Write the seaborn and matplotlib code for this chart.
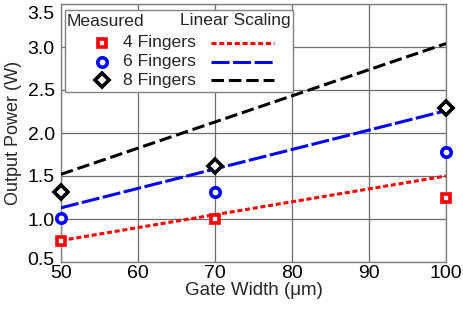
import matplotlib
matplotlib.use("Agg")
import matplotlib.pyplot as plt
import matplotlib.transforms as mtransforms
import seaborn as sns
import pandas as pd
from matplotlib.patches import Rectangle
from matplotlib.lines import Line2D

# ---- data ----
gate_width = [50, 70, 100]
meas_4 = [0.75, 1.00, 1.25]
meas_6 = [1.01, 1.31, 1.78]
meas_8 = [1.31, 1.62, 2.29]

lin_width = [50, 100]
lin_4 = [0.75, 1.50]
lin_6 = [1.13, 2.26]
lin_8 = [1.52, 3.04]

series_labels = ["4 Fingers", "6 Fingers", "8 Fingers"]
x_ticks = [50, 60, 70, 80, 90, 100]
y_ticks = [0.5, 1.0, 1.5, 2.0, 2.5, 3.0, 3.5]

sns.set_theme(style="white")
plt.rcParams["font.family"] = ["Liberation Sans", "DejaVu Sans"]
plt.rcParams["lines.scale_dashes"] = False

fig = plt.figure(figsize=(4.63, 3.11), dpi=100)
ax = fig.add_axes([61/463, 1 - 262/311, 385/463, 258/311])

colors = ["#ff0000", "#0000ff", "#000000"]
markers = ["s", "o", "D"]
msizes = [6.3, 6.8, 6.8]
dashes = [(3.6, 2.0), (13.0, 2.5), (9.0, 3.5)]

df_lin = pd.DataFrame({"w": lin_width * 3,
                       "p": lin_4 + lin_6 + lin_8,
                       "s": [l for l in series_labels for _ in lin_width]})
df_meas = pd.DataFrame({"w": gate_width * 3,
                        "p": meas_4 + meas_6 + meas_8,
                        "s": [l for l in series_labels for _ in gate_width]})

for lab, c, d in zip(series_labels, colors, dashes):
    sub = df_lin[df_lin["s"] == lab]
    sns.lineplot(data=sub, x="w", y="p", color=c, linewidth=2.2, ax=ax,
                 zorder=3)
    ax.lines[-1].set_dashes(d)
    ax.lines[-1].set_dash_capstyle("butt")

for lab, c, m, ms in zip(series_labels, colors, markers, msizes):
    sub = df_meas[df_meas["s"] == lab]
    sns.lineplot(data=sub, x="w", y="p", ax=ax, linestyle="none",
                 marker=m, markersize=ms, markerfacecolor="white",
                 markeredgecolor=c, markeredgewidth=2.6, color=c,
                 clip_on=False, zorder=4)

ax.set_xlim(50, 100)
ax.set_ylim(0.5, 3.5)
ax.set_xticks(x_ticks)
ax.set_yticks(y_ticks)
ax.set_xticklabels([str(v) for v in x_ticks])
ax.set_yticklabels([f"{v:.1f}" for v in y_ticks])
ax.tick_params(axis="both", length=0, labelsize=14, colors="black")
ax.tick_params(axis="y", pad=4.5)
ax.tick_params(axis="x", pad=2.0)

# MATLAB-style nudging of the end labels so they stay inside the axes span
ylabs = ax.get_yticklabels()
ylabs[0].set_transform(ylabs[0].get_transform() +
                       mtransforms.ScaledTranslation(0, 3.5 / 100, fig.dpi_scale_trans))
ylabs[-1].set_transform(ylabs[-1].get_transform() +
                        mtransforms.ScaledTranslation(0, -8.5 / 100, fig.dpi_scale_trans))

ax.grid(True, color="#6e6e6e", linewidth=0.9)
for sp in ax.spines.values():
    sp.set_color("#808080")
    sp.set_linewidth(1.0)

ax.set_xlabel("Gate Width (\u03bcm)", fontsize=13.5, labelpad=0.0)
ax.set_ylabel("Output Power (W)", fontsize=13, labelpad=4)

# ---- legend (manual, axes coordinates) ----
def fx(px):
    return (px - 61) / 385

def fy(py):
    return (262 - py) / 258

box = Rectangle((fx(65), fy(92)), fx(293) - fx(65), fy(10) - fy(92),
                transform=ax.transAxes, facecolor="white",
                edgecolor="#808080", linewidth=1.0, zorder=5)
ax.add_patch(box)
ax.text(fx(67), fy(21), "Measured", transform=ax.transAxes, fontsize=12.6,
        va="center", ha="left", zorder=6)
ax.text(fx(180), fy(21), "Linear Scaling", transform=ax.transAxes,
        fontsize=12.6, va="center", ha="left", zorder=6)
row_y = [42.5, 61.5, 80.0]
for lab, c, m, ms, d, ry in zip(series_labels, colors, markers, msizes,
                                dashes, row_y):
    ax.add_line(Line2D([fx(101.5)], [fy(ry)], transform=ax.transAxes,
                       linestyle="none", marker=m, markersize=ms,
                       markerfacecolor="white", markeredgecolor=c,
                       markeredgewidth=2.6, zorder=6))
    ax.text(fx(123), fy(ry), lab, transform=ax.transAxes, fontsize=12.6,
            va="center", ha="left", zorder=6)
    ln = Line2D([fx(211), fx(274)], [fy(ry), fy(ry)], transform=ax.transAxes,
                color=c, linewidth=2.2, zorder=6)
    ln.set_dashes(d)
    ln.set_dash_capstyle("butt")
    ax.add_line(ln)

fig.savefig("out.png", dpi=100)
